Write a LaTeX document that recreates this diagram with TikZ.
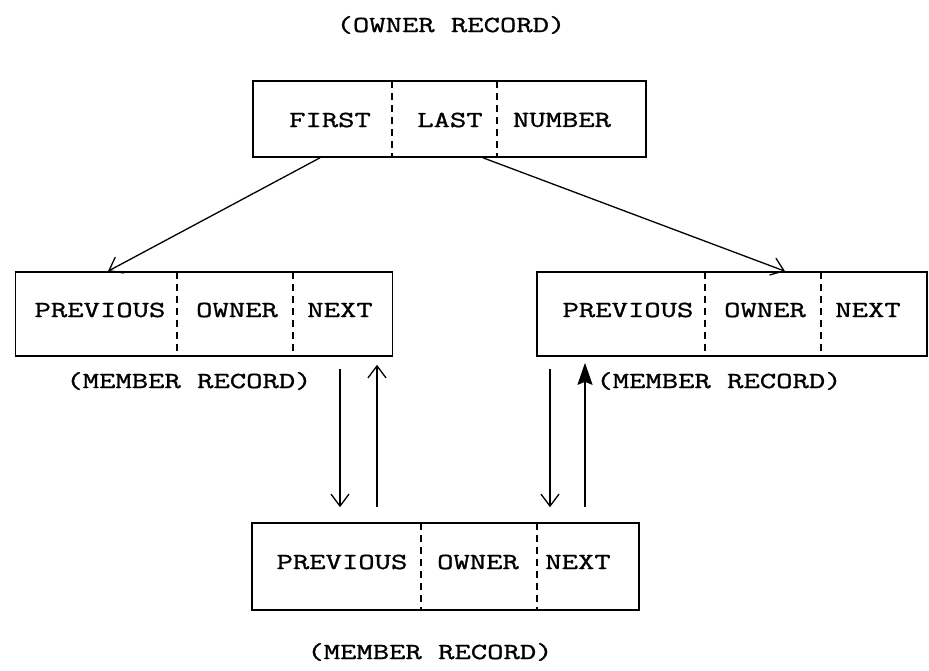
\documentclass[tikz,border=0pt]{standalone}
\usepackage{fontspec}
\newfontfamily\typew[FakeStretch=1.38, FakeBold=1.2]{Latin Modern Mono}
\usetikzlibrary{arrows.meta}

\tikzset{
  recbox/.style={draw, line width=1.6pt, minimum width=#1, minimum height=84pt, inner sep=0pt},
  field/.style={font=\typew\fontsize{23}{23}\selectfont, inner sep=0pt},
  divider/.style={line width=1.4pt, dash pattern=on 7pt off 5pt},
  link/.style={line width=1.3pt, -{Straight Barb[length=12pt, width=18pt, line width=1.3pt]}},
}

\begin{document}
\begin{tikzpicture}[x=1pt, y=-1pt]
  \useasboundingbox (0,0) rectangle (929,670);

  % owner record
  \node[field] (ownlabel) at (451,25) {(OWNER RECORD)};
  \node[recbox=393pt, minimum height=76pt] (own) at (449.5,119) {};
  \node[field] (first) at (330,120) {FIRST};
  \node[field] (last) at (450,120) {LAST};
  \node[field] (number) at (562,120) {NUMBER};
  \draw[divider] (392,81) -- (392,157);
  \draw[divider] (497,81) -- (497,157);

  % left member record
  \node[recbox=377pt] (memA) at (204,314) {};
  \node[field] (prevA) at (100,310) {PREVIOUS};
  \node[field] (ownrA) at (237,310) {OWNER};
  \node[field] (nextA) at (340,310) {NEXT};
  \draw[divider] (177,272) -- (177,356);
  \draw[divider] (293,272) -- (293,356);
  \node[field] (labA) at (189,381) {(MEMBER RECORD)};

  % right member record
  \node[recbox=390pt] (memB) at (732,314) {};
  \node[field] (prevB) at (628,310) {PREVIOUS};
  \node[field] (ownrB) at (765,310) {OWNER};
  \node[field] (nextB) at (868,310) {NEXT};
  \draw[divider] (705,272) -- (705,356);
  \draw[divider] (821,272) -- (821,356);
  \node[field] (labB) at (719,381) {(MEMBER RECORD)};

  % bottom member record
  \node[recbox=387pt, minimum height=87pt] (memC) at (445.5,566.5) {};
  \node[field] (prevC) at (342,562) {PREVIOUS};
  \node[field] (ownrC) at (478,562) {OWNER};
  \node[field] (nextC) at (578,562) {NEXT};
  \draw[divider] (421,523) -- (421,610);
  \draw[divider] (537,523) -- (537,610);
  \node[field] (labC) at (430,652) {(MEMBER RECORD)};

  % owner pointers
  \draw[link] ([xshift=-129.5pt]own.south) -- ([xshift=-96pt]memA.north);
  \draw[link] ([xshift=33.5pt]own.south) -- ([xshift=53pt]memB.north);

  % chain pointers
  \draw[link] ([xshift=136pt, yshift=-12pt]memA.south) -- ([xshift=-105.5pt, yshift=15pt]memC.north);
  \draw[link] ([xshift=-68.5pt, yshift=15pt]memC.north) -- ([xshift=173pt, yshift=-8pt]memA.south);
  \draw[link] ([xshift=-182pt, yshift=-12pt]memB.south) -- ([xshift=104.5pt, yshift=15pt]memC.north);
  \draw[line width=1.8pt, -{Stealth[length=22pt, width=15pt, inset=3pt]}] ([xshift=139.5pt, yshift=15pt]memC.north) -- ([xshift=-147pt, yshift=-6pt]memB.south);
\end{tikzpicture}
\end{document}
